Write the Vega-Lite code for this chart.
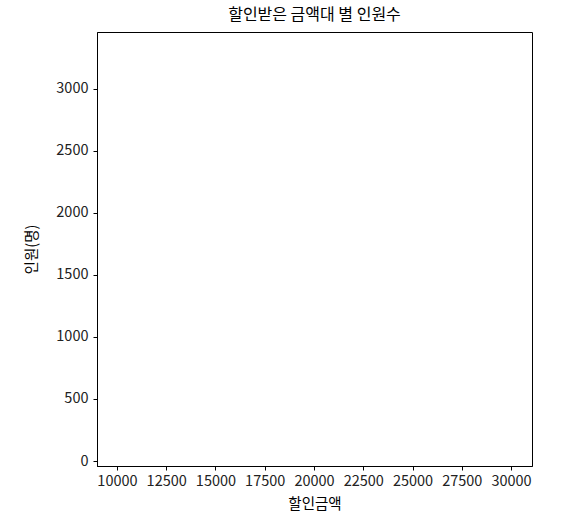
{
  "$schema": "https://vega.github.io/schema/vega-lite/v6.json",
  "autosize": {"type": "none"},
  "padding": {"left": 97, "top": 32, "right": 47, "bottom": 61},
  "width": 435,
  "height": 434,
  "title": {
    "text": "할인받은 금액대 별 인원수",
    "font": "Noto Sans CJK KR",
    "fontSize": 16,
    "fontWeight": "normal",
    "color": "black",
    "offset": 9
  },
  "data": {
    "values": [
      {"start": 10000, "end": 12000, "count": 3255},
      {"start": 12000, "end": 14000, "count": 1480},
      {"start": 14000, "end": 16000, "count": 920},
      {"start": 16000, "end": 18000, "count": 610},
      {"start": 18000, "end": 20000, "count": 1150},
      {"start": 20000, "end": 22000, "count": 380},
      {"start": 22000, "end": 24000, "count": 240},
      {"start": 24000, "end": 26000, "count": 160},
      {"start": 26000, "end": 28000, "count": 90},
      {"start": 28000, "end": 30000, "count": 410}
    ]
  },
  "mark": {"type": "bar", "fill": "white", "stroke": null},
  "encoding": {
    "x": {
      "field": "start",
      "type": "quantitative",
      "title": "할인금액",
      "scale": {"domain": [8987, 31063], "nice": false, "zero": false},
      "axis": {"values": [10000, 12500, 15000, 17500, 20000, 22500, 25000, 27500, 30000], "format": "d"}
    },
    "x2": {"field": "end"},
    "y": {
      "field": "count",
      "type": "quantitative",
      "title": "인원(명)",
      "scale": {"domain": [0, 3417], "nice": false},
      "axis": {"values": [0, 500, 1000, 1500, 2000, 2500, 3000], "format": "d"}
    }
  },
  "config": {
    "view": {"stroke": "black", "strokeWidth": 1},
    "axis": {
      "grid": false,
      "domainColor": "black",
      "tickColor": "black",
      "tickSize": 4,
      "labelFont": "Noto Sans CJK KR",
      "labelFontSize": 14.5,
      "labelColor": "#222",
      "labelFlush": false,
      "labelOverlap": false,
      "titleFont": "Noto Sans CJK KR",
      "titleFontSize": 14.5,
      "titleFontWeight": "normal",
      "titleColor": "black"
    },
    "axisX": {"labelPadding": 4, "titlePadding": 10},
    "axisY": {"labelPadding": 5, "titlePadding": 16}
  }
}
